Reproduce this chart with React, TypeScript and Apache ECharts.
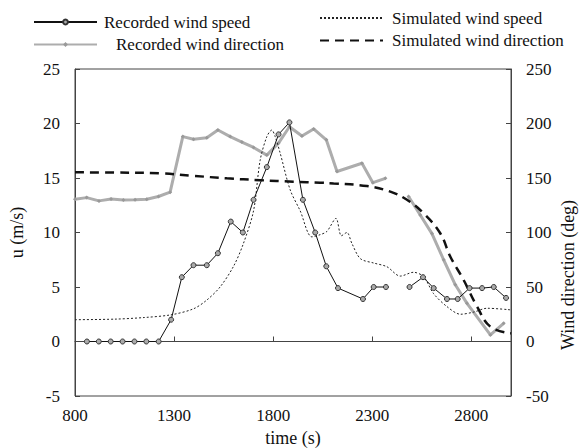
import React, { useEffect, useRef } from "react";
import * as echarts from "echarts";

const xTicks = [800, 1300, 1800, 2300, 2800];

const recSpeedTime = [860, 920, 980, 1040, 1100, 1160, 1222, 1285, 1339, 1398, 1465, 1521, 1586, 1647, 1701, 1768, 1827, 1882, 1950, 2012, 2068, 2127, 2253, 2307, 2369, 2430, 2488, 2556, 2610, 2677, 2731, 2791, 2854, 2913, 2975];
const recSpeed = [0, 0, 0, 0, 0, 0, 0, 2, 5.9, 7, 7, 8.1, 11, 10, 13, 16, 19, 20.1, 13, 10, 6.9, 4.9, 3.9, 5, 5, null, 5, 5.9, 4.9, 3.9, 3.9, 4.9, 4.9, 5, 4];

const recDirTime = [800, 859, 921, 982, 1044, 1103, 1162, 1221, 1280, 1344, 1398, 1465, 1521, 1583, 1642, 1701, 1768, 1827, 1882, 1945, 2004, 2068, 2122, 2248, 2303, 2366, 2430, 2483, 2542, 2601, 2660, 2719, 2778, 2896, 2963];
const recDir = [130.5, 132, 129, 130.7, 129.8, 130, 130.5, 133, 137, 188, 185.5, 187, 194, 188, 183, 178, 171, 182, 197, 188.5, 195, 185, 156, 163.5, 145.7, 149.7, null, 133, 116, 99, 75, 52, 35, 6, 16.7];

const simSpeedTime = [800, 1000, 1150, 1285, 1398, 1465, 1532, 1600, 1650, 1701, 1734, 1768, 1793, 1810, 1835, 1886, 1936, 1995, 2037, 2071, 2117, 2144, 2172, 2197, 2240, 2307, 2374, 2441, 2508, 2559, 2609, 2677, 2745, 2812, 2879, 3000];
const simSpeed = [2, 2.05, 2.2, 2.45, 3, 3.8, 5, 6.9, 9, 12, 16.6, 18.8, 19.4, 18.8, 17.3, 13.9, 12, 9.6, 9.8, 10.1, 11.3, 9.7, 10, 9, 7.6, 7.2, 6.86, 6, 6.35, 5.95, 4.4, 3.2, 2.5, 2.7, 3.05, 2.9];

const simDirTime = [800, 1000, 1230, 1398, 1566, 1734, 1902, 2037, 2105, 2273, 2391, 2475, 2559, 2643, 2694, 2761, 2829, 2896, 3000];
const simDir = [155.2, 155, 154.3, 152, 149.7, 148, 146.6, 145.7, 145, 142.6, 137.5, 130, 117.6, 99.3, 77.8, 56.4, 32, 13.6, 7.5];

const zip = (t: number[], v: (number | null)[]) => t.map((x, i) => [x, v[i]]);

const font = "Liberation Serif";
const fs = 17;
const nfs = 18;
const txt = "#111";

export default function App() {
  const ref = useRef<HTMLDivElement>(null);
  useEffect(() => {
    if (!ref.current) return;
    const chart = echarts.init(ref.current, null, { renderer: "svg" });
    const ts = { fontFamily: font, fontSize: fs, color: txt };
    const nts = { fontFamily: font, fontSize: nfs, color: txt };
    const legendBase = { itemWidth: 63, itemHeight: 14, textStyle: ts };
    const lbl = {
      fontFamily: font,
      fontSize: fs,
      color: txt,
      formatter: (v: number) => String(v),
    };
    chart.setOption({
      animation: false,
      backgroundColor: "#fff",
      textStyle: { fontFamily: font },
      legend: [
        { ...legendBase, itemHeight: 6, left: 28, top: 8.5, data: ["Recorded wind speed"], textStyle: { ...ts, padding: [0, 0, 0, 2] } },
        { ...legendBase, itemHeight: 6, left: 28, top: 31, data: ["Recorded wind direction"], textStyle: { ...ts, padding: [0, 0, 0, 14] } },
        { ...legendBase, left: 314, top: 4.5, data: [{ name: "Simulated wind speed", itemStyle: { opacity: 0 } }], textStyle: { ...ts, padding: [0, 0, 0, 4] } },
        { ...legendBase, left: 314, top: 27, data: [{ name: "Simulated wind direction", itemStyle: { opacity: 0 } }], textStyle: { ...ts, padding: [0, 0, 0, 4] } },
      ],
      grid: { left: 75, right: 76, top: 69, bottom: 52, show: true, borderColor: "#444", borderWidth: 1, backgroundColor: "transparent", outerBoundsMode: "none", containLabel: false },
      xAxis: {
        type: "value",
        min: 800,
        max: 3000,
        name: "time (s)",
        nameLocation: "middle",
        nameGap: 31,
        nameTextStyle: nts,
        axisLine: { lineStyle: { color: "#444" } },
        axisTick: { inside: true, length: 5, customValues: xTicks, lineStyle: { color: "#444" } },
        axisLabel: { ...lbl, customValues: xTicks, margin: 11 },
        splitLine: { show: false },
      },
      yAxis: [
        {
          type: "value",
          min: -5,
          max: 25,
          interval: 5,
          name: "u (m/s)",
          nameLocation: "middle",
          nameGap: 49,
          nameTextStyle: nts,
          axisLine: { show: true, lineStyle: { color: "#444" } },
          axisTick: { show: true, inside: true, length: 5, lineStyle: { color: "#444" } },
          axisLabel: { ...lbl, margin: 15 },
          splitLine: { show: false },
        },
        {
          type: "value",
          min: -50,
          max: 250,
          interval: 50,
          position: "right",
          axisLine: { show: true, lineStyle: { color: "#444" } },
          axisTick: { show: true, inside: true, length: 5, lineStyle: { color: "#444" } },
          axisLabel: { ...lbl, margin: 15 },
          splitLine: { show: false },
        },
      ],
      graphic: [
        {
          type: "text",
          x: 568,
          y: 275,
          rotation: Math.PI / 2,
          style: { text: "Wind direction (deg)", fontFamily: font, fontSize: nfs, fill: txt, align: "center", verticalAlign: "middle" },
        },
      ],
      series: [
        {
          name: "Recorded wind speed",
          type: "line",
          yAxisIndex: 0,
          data: zip(recSpeedTime, recSpeed),
          connectNulls: false,
          symbol: "circle",
          symbolSize: 5,
          showSymbol: true,
          lineStyle: { color: "#111", width: 1 },
          itemStyle: { color: "#aaa", borderColor: "#333", borderWidth: 1 },
          z: 5,
        },
        {
          name: "Simulated wind speed",
          type: "line",
          yAxisIndex: 0,
          data: zip(simSpeedTime, simSpeed),
          smooth: 0.3,
          symbol: "none",
          lineStyle: { color: "#222", width: 1, type: [2, 2] },
          itemStyle: { color: "#222" },
          z: 4,
        },
        {
          name: "Recorded wind direction",
          type: "line",
          yAxisIndex: 1,
          data: zip(recDirTime, recDir),
          connectNulls: false,
          symbol: "diamond",
          symbolSize: 4,
          lineStyle: { color: "#adadad", width: 3 },
          itemStyle: { color: "#999" },
          z: 3,
        },
        {
          name: "Simulated wind direction",
          type: "line",
          yAxisIndex: 1,
          data: zip(simDirTime, simDir),
          smooth: 0.4,
          symbol: "none",
          lineStyle: { color: "#111", width: 2.5, type: [9, 6] },
          itemStyle: { color: "#111" },
          z: 4,
        },
      ],
    });
    return () => chart.dispose();
  }, []);
  return <div ref={ref} style={{ width: 587, height: 448, position: "absolute", left: 0, top: 0 }} />;
}
